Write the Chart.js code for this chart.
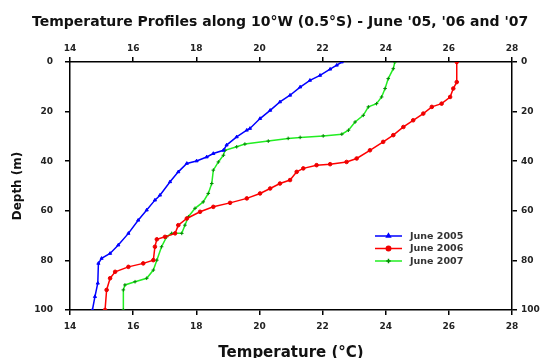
<!DOCTYPE html>
<html>
<head>
<meta charset="utf-8">
<script src="https://cdn.jsdelivr.net/npm/chart.js@4.4.1/dist/chart.umd.min.js"></script>
<style>
body { margin: 0; overflow: hidden; background: #fff; }
#wrap { width: 543px; height: 368px; }
</style>
</head>
<body>
<div id="wrap"><canvas id="tempCanvas"></canvas></div>
<script>
// values (temperature in degC, depth in m)
const temp2005 = [22.61, 22.45, 22.24, 21.92, 21.60, 21.29, 20.97, 20.65, 20.34, 20.02, 19.70, 19.60, 19.28, 18.96, 18.86, 18.54, 18.33, 18.01, 17.70, 17.43, 17.17, 16.85, 16.69, 16.43, 16.16, 15.85, 15.53, 15.27, 15.00, 14.90, 14.88, 14.79, 14.71];
const depth2005 = [0, 1.3, 2.9, 5.4, 7.4, 10.1, 13.4, 16.1, 19.5, 22.8, 26.8, 27.5, 30.2, 33.5, 35.6, 36.9, 38.3, 39.9, 40.9, 44.3, 48.3, 53.7, 55.7, 59.7, 63.8, 69.1, 73.8, 77.2, 79.2, 81.2, 89.2, 94.6, 100];

const temp2006 = [26.25, 26.25, 26.14, 26.04, 25.77, 25.46, 25.19, 24.87, 24.56, 24.24, 23.92, 23.50, 23.08, 22.76, 22.24, 21.81, 21.39, 21.18, 20.97, 20.65, 20.34, 20.02, 19.60, 19.07, 18.54, 18.12, 17.70, 17.43, 17.33, 17.01, 16.75, 16.69, 16.64, 16.32, 15.85, 15.43, 15.27, 15.16, 15.11];
const depth2006 = [0, 8.1, 10.7, 14.1, 16.8, 18.1, 20.8, 23.5, 26.2, 29.5, 32.2, 35.6, 38.9, 40.3, 41.2, 41.6, 42.9, 44.3, 47.6, 49.0, 51.0, 53.0, 55.0, 56.8, 58.4, 60.4, 63.1, 65.8, 69.1, 70.5, 71.5, 74.5, 79.9, 81.2, 82.6, 84.6, 87.2, 91.9, 100];

const temp2007 = [24.29, 24.24, 24.08, 23.98, 23.87, 23.71, 23.45, 23.29, 23.03, 22.82, 22.61, 22.02, 21.29, 20.91, 20.28, 19.54, 19.28, 18.91, 18.86, 18.70, 18.54, 18.49, 18.38, 18.22, 17.96, 17.75, 17.64, 17.54, 17.22, 17.06, 16.90, 16.75, 16.64, 16.43, 16.06, 15.74, 15.69, 15.69];
const depth2007 = [0, 2.7, 6.7, 10.7, 14.1, 16.8, 18.1, 21.5, 24.2, 27.5, 29.1, 29.8, 30.4, 30.8, 31.9, 33.1, 34.2, 35.6, 37.6, 40.3, 43.6, 49.0, 53.0, 56.4, 59.0, 62.4, 65.8, 69.1, 69.1, 70.5, 74.5, 79.9, 83.9, 87.2, 88.6, 89.9, 91.9, 100];

const seriesNames = ["June 2005", "June 2006", "June 2007"];
const titleText = "Temperature Profiles along 10\u00B0W (0.5\u00B0S) - June '05, '06 and '07";

function toPoints(t, d) {
	let pts = [];
	for (let i = 0; i < t.length; i++) {
		pts.push({ x: t[i], y: d[i] });
	}
	return pts;
}

const tickFont = { family: "DejaVu Sans", size: 9, weight: "bold" };

function xAxis(pos, pad) {
	return {
		type: "linear",
		position: pos,
		min: 14, max: 28,
		ticks: { stepSize: 2, font: tickFont, color: "#222", padding: pad },
		grid: { drawOnChartArea: false, tickLength: 5, color: "#000", lineWidth: 1.5 },
		border: { display: true, color: "#000", width: 1.5 }
	};
}

function yAxis(pos, pad) {
	return {
		type: "linear",
		position: pos,
		min: 0, max: 100,
		reverse: true,
		ticks: { stepSize: 20, font: tickFont, color: "#222", padding: pad },
		grid: { drawOnChartArea: false, tickLength: 5, color: "#000", lineWidth: 1.5 },
		border: { display: true, color: "#000", width: 1.5 }
	};
}

let scales = {
	x: xAxis("bottom", 6),
	xTop: xAxis("top", 3),
	y: yAxis("left", 12),
	yRight: yAxis("right", 4)
};
// fixed axis sizes so the plot area sits where it does in the picture
scales.x.afterFit = function(s) { s.height = 58; };
scales.xTop.afterFit = function(s) { s.height = 62; };
scales.y.afterFit = function(s) { s.width = 70; };
scales.yRight.afterFit = function(s) { s.width = 31; };

scales.x.title = {
	display: true, text: "Temperature (\u00B0C)", color: "#111",
	font: { family: "DejaVu Sans", size: 15, weight: "bold" }, padding: 6
};
scales.y.title = {
	display: true, text: "Depth (m)", color: "#111",
	font: { family: "DejaVu Sans", size: 12, weight: "bold" }, padding: 11
};

const styles = [
	{ line: "#0000ff", point: "#0000ff", shape: "triangle" },
	{ line: "#ff0000", point: "#ee0000", shape: "circle" },
	{ line: "#22ee22", point: "#008a00", shape: "cross" }
];

// title and legend drawn on top
const extras = {
	id: "extras",
	afterDraw(chart) {
		const c = chart.ctx;
		c.save();
		c.fillStyle = "#111";
		c.font = "bold 14px 'DejaVu Sans'";
		c.textBaseline = "middle";
		c.textAlign = "left";
		c.fillText(titleText, 32, 22);

		const rows = [236, 248.5, 261];
		c.font = "bold 9.5px 'DejaVu Sans'";
		for (let i = 0; i < seriesNames.length; i++) {
			const y = rows[i];
			c.strokeStyle = styles[i].line;
			c.lineWidth = 1.5;
			c.beginPath();
			c.moveTo(375, y);
			c.lineTo(402, y);
			c.stroke();
			c.fillStyle = styles[i].point;
			c.strokeStyle = styles[i].point;
			Chart.helpers.drawPoint(c, { pointStyle: styles[i].shape, radius: 2.2, rotation: 0, borderWidth: 1 }, 388.5, y);
			c.fillStyle = "#333";
			c.fillText(seriesNames[i], 410, y + 0.5);
		}
		c.restore();
	}
};

const allTemps = [temp2005, temp2006, temp2007];
const allDepths = [depth2005, depth2006, depth2007];
let datasets = [];
for (let i = 0; i < 3; i++) {
	datasets.push({
		label: seriesNames[i],
		data: toPoints(allTemps[i], allDepths[i]),
		borderColor: styles[i].line,
		backgroundColor: styles[i].point,
		pointBorderColor: styles[i].point,
		pointBackgroundColor: styles[i].point,
		pointStyle: styles[i].shape,
		pointRadius: 1.8,
		pointBorderWidth: 1,
		borderWidth: 1.5,
		tension: 0,
		fill: false
	});
}

new Chart(document.getElementById("tempCanvas").getContext("2d"), {
	type: "line",
	data: { datasets: datasets },
	options: {
		responsive: true,
		maintainAspectRatio: false,
		animation: false,
		layout: { padding: 0 },
		plugins: { legend: { display: false }, tooltip: { enabled: false } },
		scales: scales
	},
	plugins: [extras]
});
</script>
</body>
</html>
